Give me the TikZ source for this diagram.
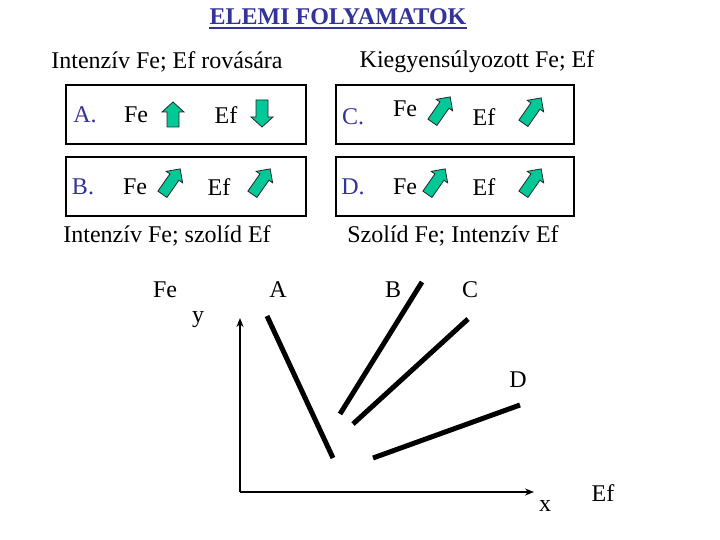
\documentclass[tikz,border=0pt]{standalone}
\usepackage{fontspec}
\setmainfont{Liberation Serif}
\usetikzlibrary{arrows.meta}
\definecolor{ttl}{RGB}{51,51,153}
\definecolor{grn}{RGB}{0,200,150}
\tikzset{
  diagarrow/.pic={\draw[blk] (0,-16) -- (10,-6) -- (5.5,-6) -- (5.5,15) -- (-5.5,15) -- (-5.5,-6) -- (-10,-6) -- cycle;}
}
\begin{document}
\begin{tikzpicture}[x=1pt,y=-1pt,
  txt/.style={font=\fontsize{24}{28}\selectfont, inner sep=0pt},
  hd/.style={font=\fontsize{24}{28}\selectfont, inner sep=0pt},
  lbl/.style={txt, text=ttl},
  panel/.style={draw=black, line width=1.2pt},
  blk/.style={fill=grn, draw=black!85, line width=0.8pt, line join=miter},
  curve/.style={line width=5pt},
  axis/.style={line width=1.8pt, -{Stealth[length=9pt,width=7pt]}}
]
\useasboundingbox[fill=white] (0,0) rectangle (720,540);

% title
\node[hd, font=\fontsize{24}{28}\selectfont\bfseries, text=ttl] (title) at (338,17) {ELEMI FOLYAMATOK};
\draw[ttl, line width=1.6pt] ([yshift=-3pt]title.base west) -- ([yshift=-3pt]title.base east);

% headings
\node[hd] (h1) at (167,62) {Intenzív Fe; Ef rovására};
\node[hd] (h2) at (477,62) {Kiegyensúlyozott Fe; Ef};
\node[hd] (h3) at (167,236) {Intenzív Fe; szolíd Ef};
\node[hd] (h4) at (453,236) {Szolíd Fe; Intenzív Ef};

% panels
\draw[panel] (66,85) rectangle (306,144);
\draw[panel] (66,157) rectangle (306,216);
\draw[panel] (336,85) rectangle (574,144);
\draw[panel] (336,157) rectangle (574,216);

% panel A
\node[lbl] (la) at (85,115) {A.};
\node[txt] (afe) at (136,115) {Fe};
\node[txt] (aef) at (226,115) {Ef};
\draw[blk] (173,102) -- (184,112) -- (179,112) -- (179,127) -- (167,127) -- (167,112) -- (162,112) -- cycle;
\draw[blk] (262,127) -- (273,117) -- (268,117) -- (268,100) -- (256,100) -- (256,117) -- (251,117) -- cycle;

% panel B
\node[lbl] (lb) at (83,187) {B.};
\node[txt] (bfe) at (135,187) {Fe};
\node[txt] (bef) at (219,187) {Ef};
\pic[rotate=-35] at (171,182) {diagarrow};
\pic[rotate=-35] at (261,182) {diagarrow};

% panel C
\node[lbl] (lc) at (353,117) {C.};
\node[txt] (cfe) at (405,109) {Fe};
\node[txt] (cef) at (484,117) {Ef};
\pic[rotate=-35] at (441,110) {diagarrow};
\pic[rotate=-35] at (532,111) {diagarrow};

% panel D
\node[lbl] (ld) at (353,187) {D.};
\node[txt] (dfe) at (405,187) {Fe};
\node[txt] (def) at (484,187) {Ef};
\pic[rotate=-35] at (436,182) {diagarrow};
\pic[rotate=-35] at (532,182) {diagarrow};

% graph
\coordinate (O) at (240,492);
\coordinate (ytop) at (240,318);
\coordinate (xend) at (534,492);
\draw[axis] (O) -- (ytop);
\draw[axis] (O) -- (xend);

\coordinate (a1) at (267,316); \coordinate (a2) at (333,458);
\coordinate (b1) at (340,414); \coordinate (b2) at (422,282);
\coordinate (c1) at (353,424); \coordinate (c2) at (468,319);
\coordinate (d1) at (373,458); \coordinate (d2) at (520,405);
\draw[curve] (a1) -- (a2);
\draw[curve] (b1) -- (b2);
\draw[curve] (c1) -- (c2);
\draw[curve] (d1) -- (d2);

\node[txt] (gfe) at (165,290) {Fe};
\node[txt] (gA) at (278,290) {A};
\node[txt] (gy) at (198,320) {y};
\node[txt] (gB) at (393,290) {B};
\node[txt] (gC) at (470,290) {C};
\node[txt] (gD) at (518,380) {D};
\node[txt] (gx) at (545,506) {x};
\node[txt] (gef) at (603,493) {Ef};
\end{tikzpicture}
\end{document}
